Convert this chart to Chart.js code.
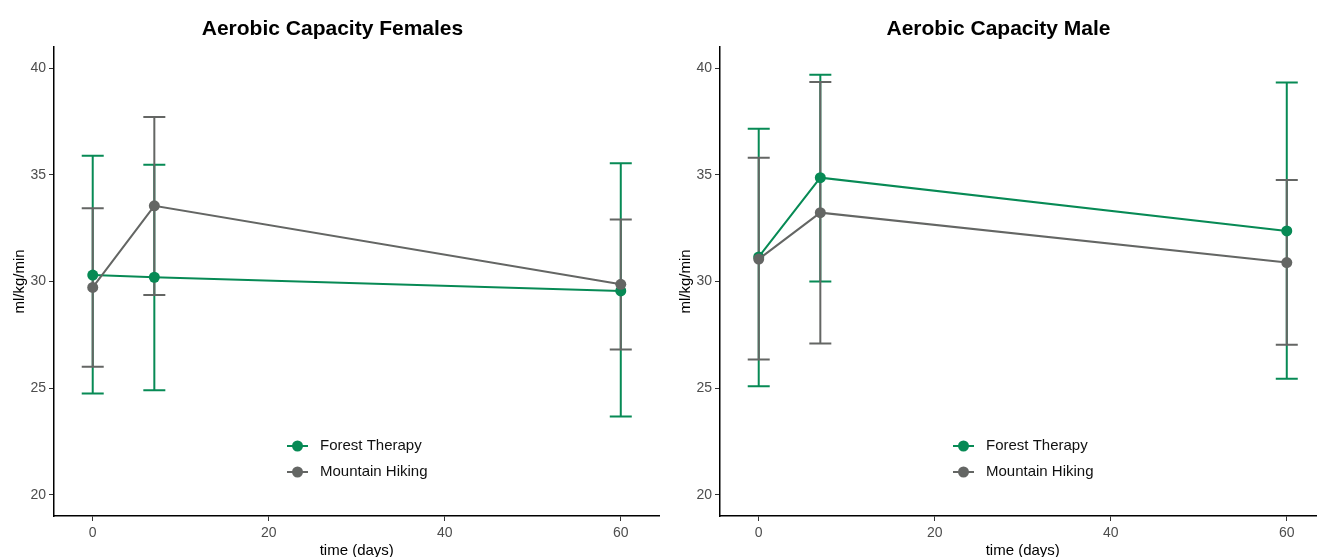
<!DOCTYPE html>
<html>
<head>
<meta charset="utf-8">
<script src="https://cdn.jsdelivr.net/npm/chart.js@4.4.1/dist/chart.umd.min.js"></script>
<style>
  html, body { margin: 0; padding: 0; background: #fff; width: 1317px; height: 557px; overflow: hidden; position: relative; }
  .panel { position: absolute; top: 0; height: 557px; width: 665px; }
  #p1 { left: 0; }
  #p2 { left: 666px; }
</style>
</head>
<body>
<div class="panel" id="p1"><canvas id="c1"></canvas></div>
<div class="panel" id="p2"><canvas id="c2"></canvas></div>
<script>
// ---- data ----
const days = [0, 7, 60];
const seriesNames = ['Forest Therapy', 'Mountain Hiking'];
const xTicks = [0, 20, 40, 60];
const yTicks = [20, 25, 30, 35, 40];

const femForestMean = [30.3, 30.2, 29.56];
const femForestLow  = [24.75, 24.9, 23.67];
const femForestHigh = [35.9, 35.48, 35.55];
const femHikeMean   = [29.72, 33.55, 29.87];
const femHikeLow    = [26.0, 29.37, 26.81];
const femHikeHigh   = [33.44, 37.72, 32.91];

const maleForestMean = [31.15, 34.87, 32.37];
const maleForestLow  = [25.09, 30.0, 25.44];
const maleForestHigh = [37.16, 39.7, 39.33];
const maleHikeMean   = [31.05, 33.23, 30.89];
const maleHikeLow    = [26.34, 27.09, 27.03];
const maleHikeHigh   = [35.8, 39.36, 34.76];

// ---- styles ----
const GREEN = '#078a55';
const GREY = '#646664';
const FONT = "'Liberation Sans', Arial, sans-serif";
const CAP_HALF_DAYS = 1.25;

const errorBarPlugin = {
  id: 'errorBars',
  beforeDatasetsDraw(chart) {
    const ctx = chart.ctx;
    const xs = chart.scales.x, ys = chart.scales.y;
    chart.data.datasets.forEach((ds) => {
      ctx.save();
      ctx.strokeStyle = ds.borderColor;
      ctx.lineWidth = 2;
      ds.data.forEach((pt, i) => {
        const x = xs.getPixelForValue(pt.x);
        const yl = ys.getPixelForValue(ds.low[i]);
        const yh = ys.getPixelForValue(ds.high[i]);
        const xl = xs.getPixelForValue(pt.x - CAP_HALF_DAYS);
        const xr = xs.getPixelForValue(pt.x + CAP_HALF_DAYS);
        ctx.beginPath();
        ctx.moveTo(x, yl); ctx.lineTo(x, yh);
        ctx.moveTo(xl, yl); ctx.lineTo(xr, yl);
        ctx.moveTo(xl, yh); ctx.lineTo(xr, yh);
        ctx.stroke();
      });
      ctx.restore();
    });
  }
};

const legendPlugin = {
  id: 'innerLegend',
  afterDraw(chart) {
    const ctx = chart.ctx;
    const ca = chart.chartArea;
    const x0 = ca.left + 233;
    chart.data.datasets.forEach((ds, i) => {
      const y = ca.top + 399 + i * 26;
      ctx.save();
      ctx.strokeStyle = ds.borderColor;
      ctx.fillStyle = ds.borderColor;
      ctx.lineWidth = 2;
      ctx.beginPath();
      ctx.moveTo(x0, y); ctx.lineTo(x0 + 21, y);
      ctx.stroke();
      ctx.beginPath();
      ctx.arc(x0 + 10.5, y, 5.5, 0, Math.PI * 2);
      ctx.fill();
      ctx.fillStyle = '#111';
      ctx.font = '15px ' + FONT;
      ctx.textBaseline = 'middle';
      ctx.textAlign = 'left';
      ctx.fillText(ds.label, x0 + 33, y);
      ctx.restore();
    });
  }
};

function toPts(means) { return days.map((d, i) => ({ x: d, y: means[i] })); }

function makeChart(id, title, fM, fL, fH, hM, hL, hH) {
  const datasets = [
    { label: seriesNames[0], data: toPts(fM), low: fL, high: fH, order: 1 },
    { label: seriesNames[1], data: toPts(hM), low: hL, high: hH, order: 0 }
  ];
  const colors = [GREEN, GREY];
  datasets.forEach((ds, i) => {
    Object.assign(ds, {
      borderColor: colors[i], backgroundColor: colors[i],
      pointBackgroundColor: colors[i], pointBorderColor: colors[i],
      borderWidth: 2, pointRadius: 5.5, pointBorderWidth: 0, tension: 0
    });
  });
  return new Chart(document.getElementById(id), {
    type: 'line',
    data: { datasets },
    plugins: [errorBarPlugin, legendPlugin],
    options: {
      responsive: true,
      maintainAspectRatio: false,
      animation: false,
      layout: { padding: 0 },
      plugins: {
        legend: { display: false },
        tooltip: { enabled: false },
        title: {
          display: true, text: title, color: '#000',
          font: { family: FONT, size: 21, weight: 'bold', lineHeight: 1.2 },
          padding: { top: 17, bottom: 4.8 }
        }
      },
      scales: {
        x: {
          type: 'linear', min: -4.4, max: 64.4,
          afterBuildTicks(s) { s.ticks = xTicks.map(v => ({ value: v })); },
          afterFit(s) { s.height = 41; },
          border: { display: true, color: '#000', width: 1.5 },
          grid: { display: true, drawOnChartArea: false, drawTicks: true, tickLength: 5, tickColor: '#333', tickWidth: 1 },
          ticks: { color: '#4d4d4d', font: { family: FONT, size: 14 }, padding: 4, maxRotation: 0 },
          title: { display: true, text: 'time (days)', color: '#000', font: { family: FONT, size: 15, lineHeight: 1.2 }, padding: { top: 0, bottom: -3 } }
        },
        y: {
          type: 'linear', min: 19, max: 41,
          afterBuildTicks(s) { s.ticks = yTicks.map(v => ({ value: v })); },
          afterFit(s) { s.width = 54; },
          border: { display: true, color: '#000', width: 1.5 },
          grid: { display: true, drawOnChartArea: false, drawTicks: true, tickLength: 5, tickColor: '#333', tickWidth: 1 },
          ticks: { color: '#4d4d4d', font: { family: FONT, size: 14 }, padding: 3 },
          title: { display: true, text: 'ml/kg/min', color: '#000', font: { family: FONT, size: 15, lineHeight: 1.2 }, padding: { top: 11, bottom: 0 } }
        }
      }
    }
  });
}

makeChart('c1', 'Aerobic Capacity Females', femForestMean, femForestLow, femForestHigh, femHikeMean, femHikeLow, femHikeHigh);
makeChart('c2', 'Aerobic Capacity Male', maleForestMean, maleForestLow, maleForestHigh, maleHikeMean, maleHikeLow, maleHikeHigh);
</script>
</body>
</html>
